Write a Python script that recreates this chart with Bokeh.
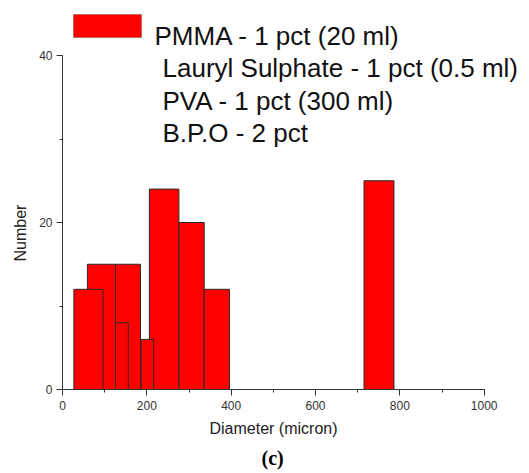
from bokeh.plotting import figure
from bokeh.models import Range1d, SingleIntervalTicker, Label, BoxAnnotation, Title
from bokeh.embed import file_html
from bokeh.resources import INLINE

# ---- data (histogram bins, in drawing order) ----
bin_left = [59, 27, 126, 126, 206, 186, 276, 336, 715]
bin_right = [126, 96, 185, 156, 276, 216, 336, 396, 786]
counts = [15, 12, 15, 8, 24, 6, 20, 12, 25]

legend_lines = [
    "PMMA - 1 pct (20 ml)",
    "Lauryl Sulphate - 1 pct (0.5 ml)",
    "PVA - 1 pct (300 ml)",
    "B.P.O - 2 pct",
]
x_label = "Diameter (micron)"
y_label = "Number"
panel_label = "(c)"

# ---- layout ----
W, H = 529, 473
BL, BR, BT, BB = 62, 0, 0, 84
FW, FH = W - BL - BR, H - BT - BB
X_PX = 0.4217   # px per micron
Y_PX = 8.35     # px per count
x_end = FW / X_PX
y_end = FH / Y_PX

def cx(px):  # canvas px -> data x
    return (px - BL) / X_PX

def cy(py):  # canvas px (from top) -> data y
    return (BT + FH - py) / Y_PX

p = figure(width=W, height=H, output_backend="svg", toolbar_location=None,
           x_range=Range1d(0, x_end), y_range=Range1d(0, y_end),
           min_border_left=BL, min_border_right=BR, min_border_top=BT,
           min_border_bottom=BB)
p.outline_line_color = None
p.grid.visible = False
p.background_fill_color = "white"
p.border_fill_color = "white"

p.quad(left=bin_left, right=bin_right, bottom=0, top=counts,
       fill_color="#ff0000", line_color="#2a2a2a", line_width=1)

axis_color = "#333333"
for ax in (p.xaxis[0], p.yaxis[0]):
    ax.axis_line_color = axis_color
    ax.major_tick_line_color = axis_color
    ax.minor_tick_line_color = axis_color
    ax.major_tick_in = 0
    ax.minor_tick_in = 0
    ax.major_tick_out = 6
    ax.minor_tick_out = 3
    ax.major_label_text_font = "Liberation Sans"
    ax.major_label_text_font_size = "12px"
    ax.major_label_text_color = "#333333"

p.xaxis.bounds = (0, 1000)
p.yaxis.bounds = (0, 40)
p.xaxis.ticker = SingleIntervalTicker(interval=200, num_minor_ticks=2)
p.yaxis.ticker = SingleIntervalTicker(interval=20, num_minor_ticks=2)
p.yaxis.major_label_standoff = 4
p.xaxis.major_label_standoff = 5

title_style = dict(text_font="Liberation Sans", text_font_size="16px",
                   text_font_style="normal", text_color="#222222", align="left")
# axis titles as side titles so they can be centred on the 0..1000 / 0..40 span
p.add_layout(Title(text=x_label, offset=147, standoff=10, **title_style), "below")
p.add_layout(Title(text=panel_label, align="left", offset=199, standoff=6,
                   text_font="Liberation Serif", text_font_size="20px",
                   text_font_style="bold", text_color="black"), "below")
p.add_layout(Title(text=y_label, offset=128, standoff=15, **title_style), "left")

# legend
p.add_layout(BoxAnnotation(left=cx(73), right=cx(141), top=cy(14), bottom=cy(37),
                           fill_color="#ff0000", fill_alpha=1.0,
                           line_color="#2a2a2a", line_width=1))
baselines = [35.5, 67.7, 100, 132]
lx = [154, 162, 162, 162]
for t, b, x0 in zip(legend_lines, baselines, lx):
    p.add_layout(Label(x=cx(x0), y=cy(b), text=t, text_font="Liberation Sans",
                       text_font_size="26px", text_color="#111111",
                       text_align="left", text_baseline="alphabetic"))

open("out.html", "w").write(file_html(p, INLINE))
